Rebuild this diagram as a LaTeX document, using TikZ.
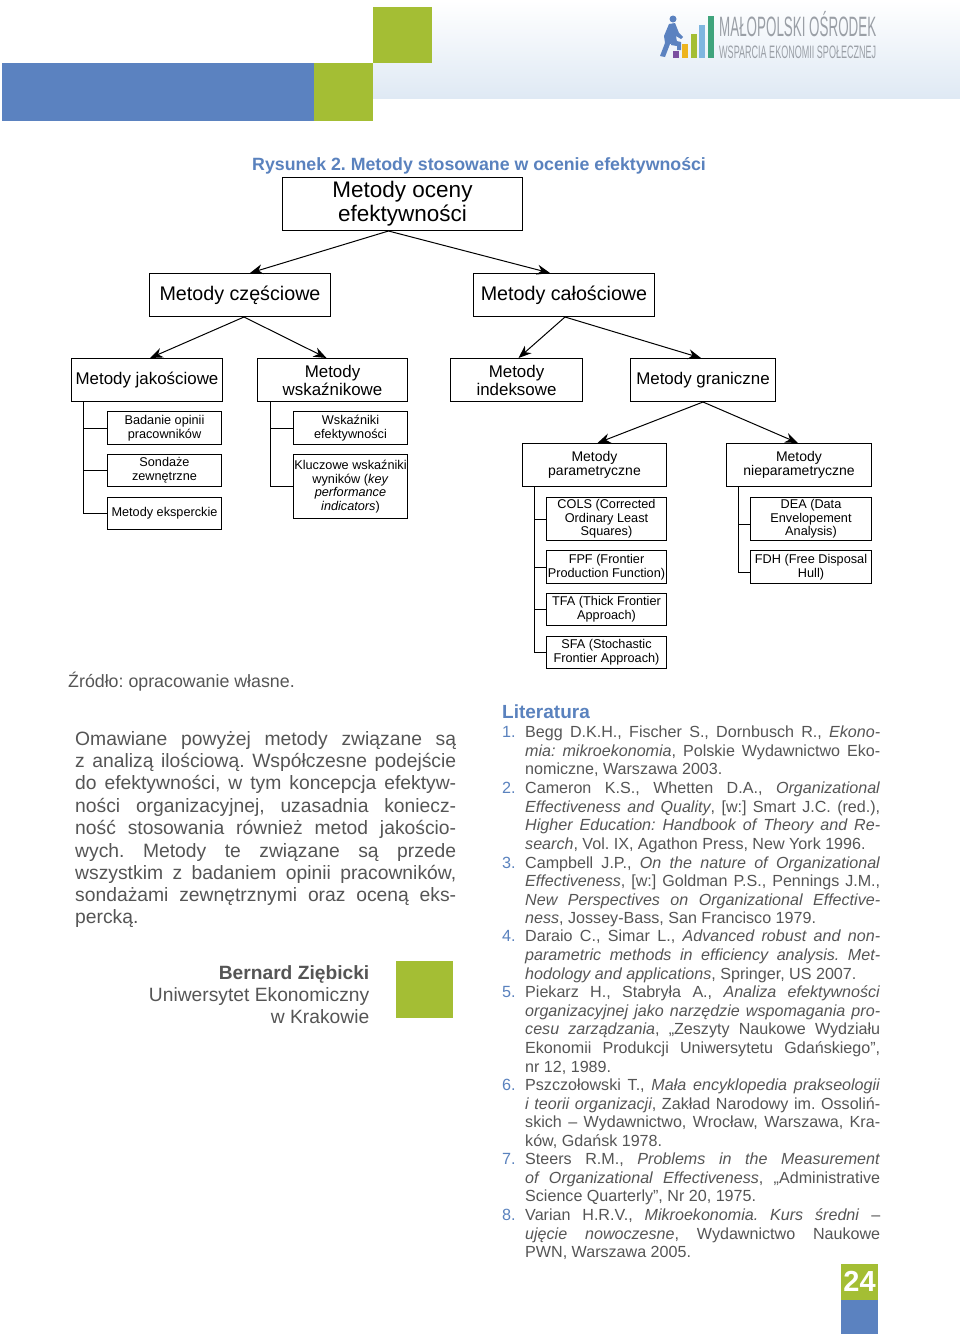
\documentclass[tikz,border=0pt]{standalone}
\usepackage{fontspec}
\setmainfont{Liberation Sans}
\usetikzlibrary{arrows.meta}
\definecolor{hblue}{HTML}{5B82C0}
\definecolor{hgreen}{HTML}{A4BE34}
\definecolor{titleblue}{HTML}{5A82BE}
\definecolor{bodygray}{HTML}{555555}
\definecolor{bandblue}{HTML}{DFE9F4}
\definecolor{logogray}{HTML}{9A9FA6}
\definecolor{lpurple}{HTML}{7B4FA0}
\definecolor{lorange}{HTML}{EDB41E}
\definecolor{llight}{HTML}{7FB6E0}
\definecolor{lteal}{HTML}{3FA47C}
\newcommand{\fs}[1]{\fontsize{#1}{#1}\selectfont}
\frenchspacing
\tikzset{
  x=1pt,y=-1pt,
  box/.style={draw=black,line width=1pt,align=center,inner sep=0pt,anchor=north west,text=black,execute at begin node=\setlength{\baselineskip}{#1}},
  bigbox/.style={box=18pt,font=\fs{19.7}},
  midbox/.style={box=18pt,font=\fs{16.9}},
  smallbox/.style={box=13.6pt,font=\fs{12.7}},
  arr/.style={line width=1pt,-{Stealth[length=13pt,width=10pt]}},
  conn/.style={line width=1pt},
  ltxt/.style={anchor=base west,inner sep=0pt,text=bodygray,yshift=-0.5pt},
  rtxt/.style={anchor=base east,inner sep=0pt,text=bodygray},
}
\newcommand{\jl}[4]{\node[ltxt] (#1) at (#2,#3) {\frenchspacing\fs{\bodysize}\makebox[\linew pt][s]{#4}};}
\newcommand{\nl}[4]{\node[ltxt] (#1) at (#2,#3) {\frenchspacing\fs{\bodysize}#4};}
\begin{document}
\begin{tikzpicture}
\useasboundingbox (0,0) rectangle (960,1334);
\fill[white] (0,0) rectangle (960,1334);
% header
\shade[top color=white,bottom color=bandblue] (373,0) rectangle (960,98);
\fill[hblue] (2,63) rectangle (314,121);
\fill[hgreen] (314,63) rectangle (373,121);
\fill[hgreen] (373,7) rectangle (432,63);
% logo
\fill[hblue] (673,19) circle (3.5);
\fill[hblue] (669,24) -- (675,23) -- (679,33) -- (683,37) -- (681,39) -- (676,36) -- (677,42) -- (670,44) -- (665,57) -- (660,56) -- (665,43) -- (664,36) -- cycle;
\fill[hblue] (672,40) -- (681,42) -- (681,50) -- (677,50) -- (677,46) -- (671,45) -- cycle;
\fill[lpurple] (673,51) rectangle (679,58);
\fill[lorange] (682,44) rectangle (688,58);
\fill[hgreen] (691,34) rectangle (697,58);
\fill[llight] (699,25) rectangle (705,58);
\fill[lteal] (708,16) rectangle (714,58);
\node[anchor=base west,inner sep=0pt,text=logogray] (logoa) at (719,36) {\resizebox{157pt}{\height}{\fs{28}MAŁOPOLSKI OŚRODEK}};
\node[anchor=base west,inner sep=0pt,text=logogray] (logob) at (719,58) {\resizebox{157pt}{\height}{\fs{18}WSPARCIA EKONOMII SPOŁECZNEJ}};
% title
\node[anchor=base west,inner sep=0pt,text=titleblue] (title) at (252,170) {\frenchspacing\fs{17.75}\bfseries Rysunek 2. Metody stosowane w ocenie efektywności};
% diagram
\node[box=24pt,font=\fs{22.5},minimum width=240pt,minimum height=53pt] (root) at (282,177) {Metody oceny\\efektywności};
\node[bigbox,minimum width=181pt,minimum height=43pt] (cz) at (149,273) {Metody częściowe};
\node[bigbox,minimum width=181pt,minimum height=43pt] (ca) at (473,273) {Metody całościowe};
\node[midbox,minimum width=151pt,minimum height=43pt] (jak) at (71,358) {Metody jakościowe};
\node[midbox,minimum width=150pt,minimum height=43pt] (wsk) at (257,358) {Metody\\wskaźnikowe};
\node[midbox,minimum width=132pt,minimum height=43pt] (ind) at (450,358) {Metody\\indeksowe};
\node[midbox,minimum width=145pt,minimum height=43pt] (gra) at (630,358) {Metody graniczne};
\node[smallbox,minimum width=114pt,minimum height=33pt] (bad) at (107,411) {Badanie opinii\\pracowników};
\node[smallbox,minimum width=114pt,minimum height=32pt] (son) at (107,454) {Sondaże\\zewnętrzne};
\node[smallbox,minimum width=114pt,minimum height=32pt] (eks) at (107,497) {Metody eksperckie};
\node[smallbox,minimum width=114pt,minimum height=33pt] (wef) at (293,411) {Wskaźniki\\efektywności};
\node[smallbox,minimum width=114pt,minimum height=64pt] (klu) at (293,454) {Kluczowe wskaźniki\\wyników (\textit{key}\\\textit{performance}\\\textit{indicators})};
\node[box=14.4pt,font=\fs{14},minimum width=144pt,minimum height=43pt] (par) at (522,443) {Metody\\parametryczne};
\node[box=14.4pt,font=\fs{14},minimum width=145pt,minimum height=43pt] (nie) at (726,443) {Metody\\nieparametryczne};
\node[smallbox,minimum width=120pt,minimum height=43pt] (cols) at (546,497) {COLS (Corrected\\Ordinary Least\\Squares)};
\node[smallbox,minimum width=120pt,minimum height=33pt] (fpf) at (546,550) {FPF (Frontier\\Production Function)};
\node[smallbox,minimum width=120pt,minimum height=32pt] (tfa) at (546,593) {TFA (Thick Frontier\\Approach)};
\node[smallbox,minimum width=120pt,minimum height=32pt] (sfa) at (546,636) {SFA (Stochastic\\Frontier Approach)};
\node[smallbox,minimum width=121pt,minimum height=43pt] (dea) at (750,497) {DEA (Data\\Envelopement\\Analysis)};
\node[smallbox,minimum width=121pt,minimum height=33pt] (fdh) at (750,550) {FDH (Free Disposal\\Hull)};
% arrows
\draw[arr] ([xshift=-14pt]root.south) -- ([xshift=10pt]cz.north);
\draw[arr] ([xshift=-14pt]root.south) -- ([xshift=-14pt]ca.north);
\draw[arr] ([xshift=4pt]cz.south) -- ([xshift=3pt]jak.north);
\draw[arr] ([xshift=4pt]cz.south) -- ([xshift=-6pt]wsk.north);
\draw[arr] ([xshift=1pt]ca.south) -- ([xshift=2pt]ind.north);
\draw[arr] ([xshift=1pt]ca.south) -- ([xshift=-2pt]gra.north);
\draw[arr] (gra.south) -- ([xshift=3pt]par.north);
\draw[arr] (gra.south) -- ([xshift=-1pt]nie.north);
% trunks
\foreach \c in {bad,son,eks} \draw[conn] (jak.south west) ++(12,0) |- (\c.west);
\draw[conn] (wsk.south west) ++(13,0) |- (wef.west);
\draw[conn] (wsk.south west) ++(13,0) |- (klu.west);
\foreach \c in {cols,fpf,tfa,sfa} \draw[conn] (par.south west) ++(12,0) |- (\c.west);
\draw[conn] (nie.south west) ++(12,0) |- ([yshift=-5pt]dea.west);
\draw[conn] (nie.south west) ++(12,0) |- ([yshift=-5pt]fdh.west);
% source
\node[anchor=base west,inner sep=0pt,text=bodygray] (src) at (68,687) {\frenchspacing\fs{17.8}Źródło: opracowanie własne.};
% left text
\def\bodysize{19.3}\def\linew{381}
\jl{la}{75}{745}{Omawiane powyżej metody związane są}
\jl{lb}{75}{767}{z analizą ilościową. Współczesne podejście}
\jl{lc}{75}{789}{do efektywności, w tym koncepcja efektyw-}
\jl{ld}{75}{811.5}{ności organizacyjnej, uzasadnia koniecz-}
\jl{le}{75}{834}{ność stosowania również metod jakościo-}
\jl{lf}{75}{856.5}{wych. Metody te związane są przede}
\jl{lg}{75}{878.5}{wszystkim z badaniem opinii pracowników,}
\jl{lh}{75}{901}{sondażami zewnętrznymi oraz oceną eks-}
\nl{li}{75}{923}{percką.}
% signature
\node[rtxt] (sa) at (369.5,979.5) {\fs{19.2}\bfseries Bernard Ziębicki};
\node[rtxt] (sb) at (369.5,1001.5) {\fs{19.25}Uniwersytet Ekonomiczny};
\node[rtxt] (sc) at (369.5,1023.5) {\fs{19.25}w Krakowie};
\fill[hgreen] (396,961) rectangle (453,1018);
% literature
\node[anchor=base west,inner sep=0pt,text=titleblue] (lit) at (502,718) {\fs{19}\bfseries Literatura};
\def\bodysize{16.1}\def\linew{355}
\newcommand{\num}[3]{\node[ltxt,text=titleblue] (#1) at (502,#2) {\fs{16.2}#3};}
\num{n1}{737}{1.}\num{n2}{793}{2.}\num{n3}{867.5}{3.}\num{n4}{941}{4.}\num{n5}{997}{5.}\num{n6}{1090}{6.}\num{n7}{1164}{7.}\num{n8}{1220}{8.}
\jl{a1}{525}{737}{Begg D.K.H., Fischer S., Dornbusch R., \textit{Ekono-}}
\jl{a2}{525}{755.5}{\textit{mia: mikroekonomia}, Polskie Wydawnictwo Eko-}
\nl{a3}{525}{774}{nomiczne, Warszawa 2003.}
\jl{b1}{525}{793}{Cameron K.S., Whetten D.A., \textit{Organizational}}
\jl{b2}{525}{811.5}{\textit{Effectiveness and Quality}, [w:] Smart J.C. (red.),}
\jl{b3}{525}{830}{\textit{Higher Education: Handbook of Theory and Re-}}
\nl{b4}{525}{848.5}{\textit{search}, Vol. IX, Agathon Press, New York 1996.}
\jl{c1}{525}{867.5}{Campbell J.P., \textit{On the nature of Organizational}}
\jl{c2}{525}{886}{\textit{Effectiveness}, [w:] Goldman P.S., Pennings J.M.,}
\jl{c3}{525}{904.5}{\textit{New Perspectives on Organizational Effective-}}
\nl{c4}{525}{923}{\textit{ness}, Jossey-Bass, San Francisco 1979.}
\jl{d1}{525}{941}{Daraio C., Simar L., \textit{Advanced robust and non-}}
\jl{d2}{525}{960}{\textit{parametric methods in efficiency analysis. Met-}}
\nl{d3}{525}{978.5}{\textit{hodology and applications}, Springer, US 2007.}
\jl{e1}{525}{997}{Piekarz H., Stabryła A., \textit{Analiza efektywności}}
\jl{e2}{525}{1015.5}{\textit{organizacyjnej jako narzędzie wspomagania pro-}}
\jl{e3}{525}{1034}{\textit{cesu zarządzania}, „Zeszyty Naukowe Wydziału}
\jl{e4}{525}{1053}{Ekonomii Produkcji Uniwersytetu Gdańskiego”,}
\nl{e5}{525}{1071.5}{nr 12, 1989.}
\jl{f1}{525}{1090}{Pszczołowski T., \textit{Mała encyklopedia prakseologii}}
\jl{f2}{525}{1108.5}{\textit{i teorii organizacji}, Zakład Narodowy im. Ossoliń-}
\jl{f3}{525}{1127}{skich – Wydawnictwo, Wrocław, Warszawa, Kra-}
\nl{f4}{525}{1145.5}{ków, Gdańsk 1978.}
\jl{g1}{525}{1164}{Steers R.M., \textit{Problems in the Measurement}}
\jl{g2}{525}{1182.5}{\textit{of Organizational Effectiveness}, „Administrative}
\nl{g3}{525}{1201}{Science Quarterly”, Nr 20, 1975.}
\jl{h1}{525}{1220}{Varian H.R.V., \textit{Mikroekonomia. Kurs średni} –}
\jl{h2}{525}{1238.5}{\textit{ujęcie nowoczesne}, Wydawnictwo Naukowe}
\nl{h3}{525}{1257}{PWN, Warszawa 2005.}
% page number
\fill[hgreen] (841,1264) rectangle (878,1300);
\fill[hblue] (841,1300) rectangle (878,1334);
\node[anchor=base,inner sep=0pt,text=white] (pg) at (859.5,1291) {\fs{29}\bfseries 24};
\end{tikzpicture}
\end{document}
